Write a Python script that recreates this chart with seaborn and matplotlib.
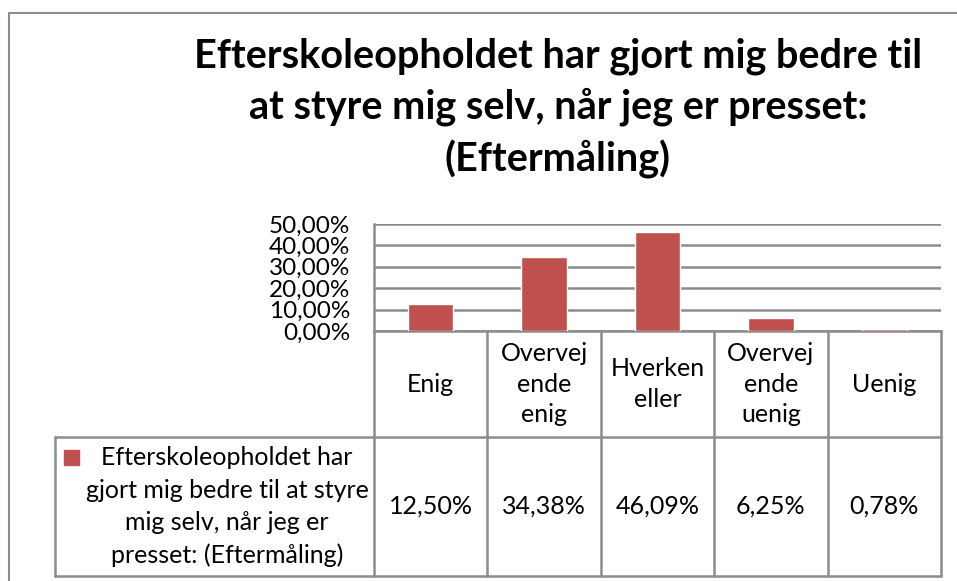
import numpy as np
import pandas as pd
import matplotlib
matplotlib.use("Agg")
import matplotlib.pyplot as plt
from matplotlib.lines import Line2D
from matplotlib.patches import Rectangle
from matplotlib.ticker import FuncFormatter
import seaborn as sns

# --- data ---
categories = ["Enig", "Overvejende enig", "Hverken eller", "Overvejende uenig", "Uenig"]
header_labels = ["Enig", "Overvej\nende\nenig", "Hverken\neller", "Overvej\nende\nuenig", "Uenig"]
values = [12.50, 34.38, 46.09, 6.25, 0.78]
y_ticks = [0, 10, 20, 30, 40, 50]
series_name = "Efterskoleopholdet har\ngjort mig bedre til at styre\nmig selv, når jeg er\npresset: (Eftermåling)"
title = "Efterskoleopholdet har gjort mig bedre til\nat styre mig selv, når jeg er presset:\n(Eftermåling)"

BAR_COLOR = "#C0504D"
LINE_COLOR = "#8C8C8C"

W, H = 957, 581

def fx(x):
    return x / W

def fy(y):
    return 1 - y / H

sns.set_style("white")
plt.rcParams["font.family"] = ["Lato", "DejaVu Sans"]
plt.rcParams["text.color"] = "black"
plt.rcParams["ytick.color"] = "black"

fig = plt.figure(figsize=(W / 100, H / 100), dpi=100)

# outer chart frame (partly cut off in the reference)
fig.add_artist(Line2D([fx(9), fx(9), fx(957)], [fy(581), fy(13), fy(13)],
                      transform=fig.transFigure, color=LINE_COLOR, lw=1.5))

fig.text(fx(558), fy(108), title, ha="center", va="center",
         fontsize=28.5, fontweight="bold", linespacing=1.41)

# --- bar plot ---
plot_l, plot_r, plot_t, plot_b = 374, 941, 224, 331
ax = fig.add_axes([fx(plot_l), fy(plot_b), (plot_r - plot_l) / W, (plot_b - plot_t) / H])
df = pd.DataFrame({"cat": categories, "val": values})
sns.barplot(data=df, x="cat", y="val", color=BAR_COLOR, saturation=1, width=0.4, ax=ax, zorder=3)
ax.set_xlim(-0.5, len(categories) - 0.5)
ax.set_ylim(0, 50)
ax.set_yticks(y_ticks)
ax.yaxis.set_major_formatter(FuncFormatter(lambda v, _: f"{v:.2f}%".replace(".", ",")))
ax.set_xticks([])
ax.set_xlabel("")
ax.set_ylabel("")
ax.grid(axis="y", color=LINE_COLOR, lw=1.8, zorder=0)
ax.tick_params(axis="y", length=0, pad=17, labelsize=17.5, labelcolor="black")
for s in ["top", "right"]:
    ax.spines[s].set_visible(False)
for s in ["left", "bottom"]:
    ax.spines[s].set_color(LINE_COLOR)
    ax.spines[s].set_linewidth(1.8)

# --- data table below the bars ---
tab_l, tab_b = 55, 576
row_split = 437
unit = (plot_r - plot_l) / len(categories)
x_left = -0.5 - (plot_l - tab_l) / unit
hdr = (tab_b - row_split) / (tab_b - plot_b)

ax_t = fig.add_axes([fx(tab_l), fy(tab_b), (plot_r - tab_l) / W, (tab_b - plot_b) / H])
ax_t.set_xlim(x_left, len(categories) - 0.5)
ax_t.set_ylim(0, 1)
ax_t.axis("off")

lk = dict(color=LINE_COLOR, lw=1.8, clip_on=False)
for i in range(len(categories) + 1):
    ax_t.plot([i - 0.5, i - 0.5], [0, 1], **lk)
ax_t.plot([x_left, len(categories) - 0.5], [hdr, hdr], **lk)
ax_t.plot([x_left, len(categories) - 0.5], [0, 0], **lk)
ax_t.plot([x_left, x_left], [0, hdr], **lk)

for i, (lab, v) in enumerate(zip(header_labels, values)):
    ax_t.text(i, (1 + hdr) / 2, lab, ha="center", va="center", fontsize=18, linespacing=1.39)
    ax_t.text(i, hdr / 2, f"{v:.2f}%".replace(".", ","), ha="center", va="center", fontsize=18)

# series label with its colour key
leg_cx = -0.5 - (plot_l - 227) / unit
ax_t.text(leg_cx, hdr / 2, series_name, ha="center", va="center", fontsize=18, linespacing=1.48)
key_x = x_left + (64 - tab_l) / unit
key_y = (tab_b - 465) / (tab_b - plot_b)
ax_t.add_patch(Rectangle((key_x, key_y), 15 / unit, 15 / (tab_b - plot_b),
                         color=BAR_COLOR, clip_on=False))

fig.savefig("out.png", dpi=100)
